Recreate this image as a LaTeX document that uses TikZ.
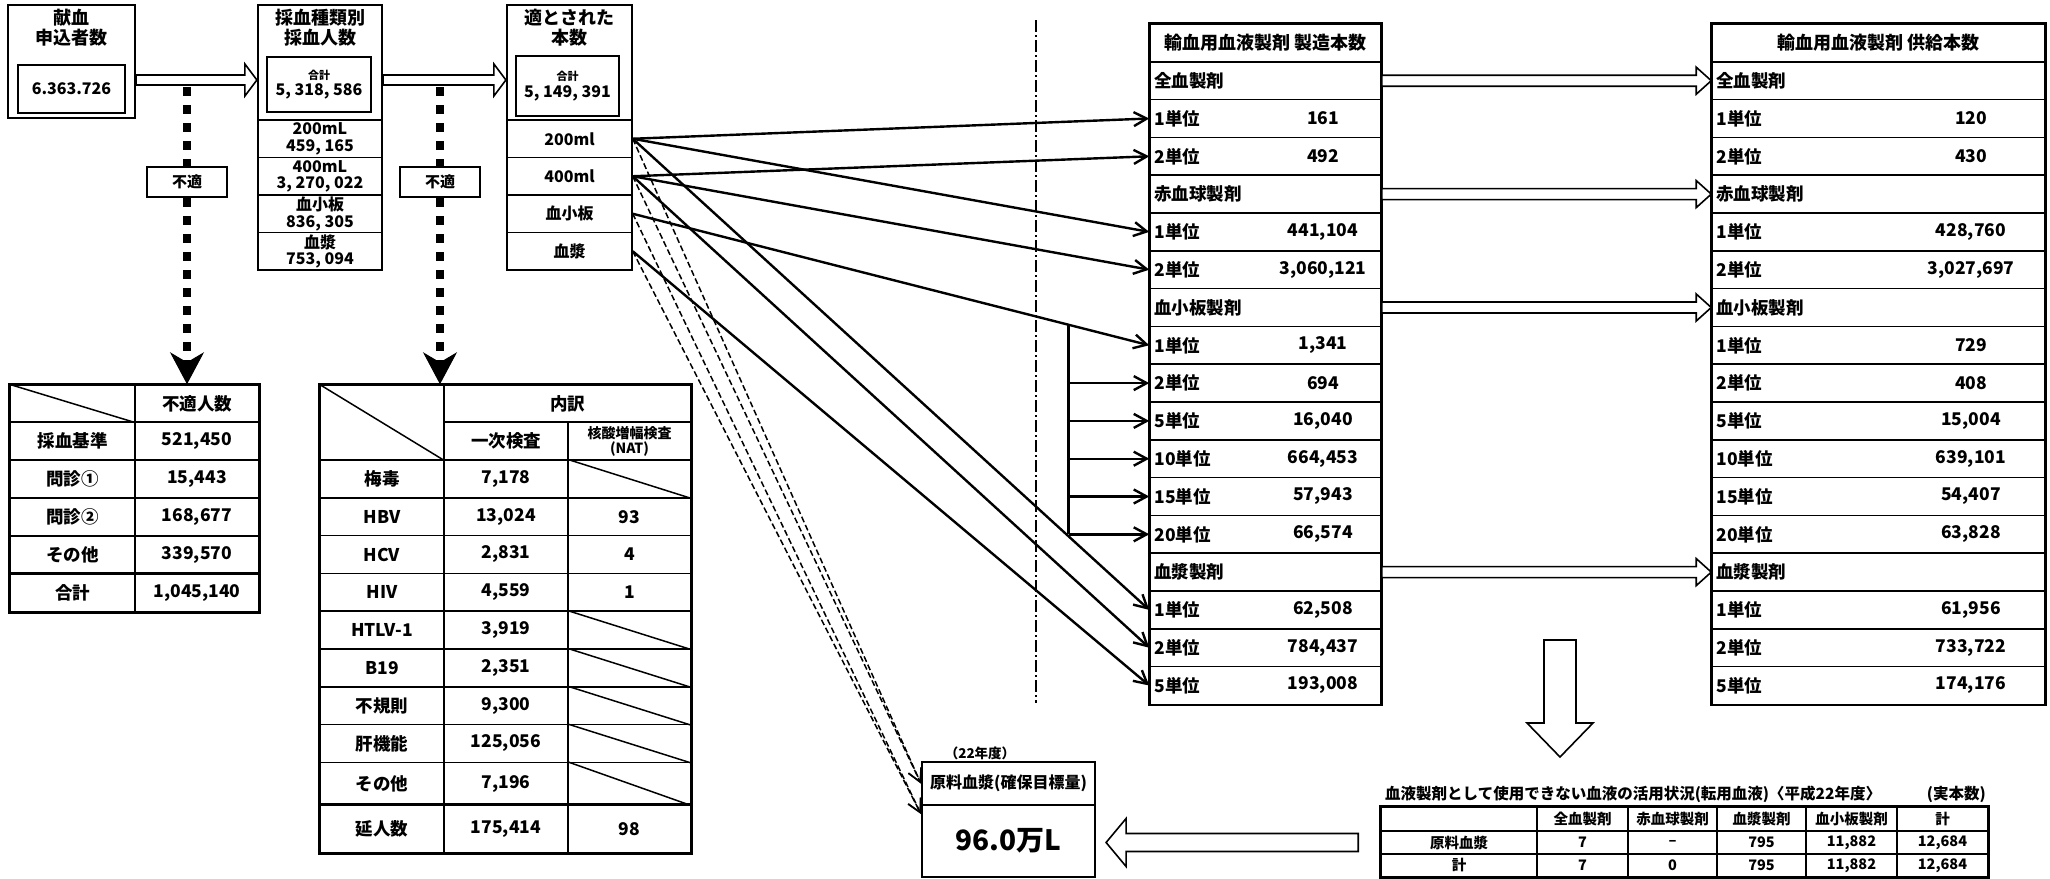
\documentclass[tikz,border=0pt]{standalone}
\usepackage{fontspec}
\setmainfont{Noto Sans CJK JP}
\usetikzlibrary{arrows.meta,positioning,calc}

% hollow block arrow pointing right: tail, tip, shaft half, head half, head length
\newcommand{\hollowR}[5]{%
  \draw[line width=1.6pt,fill=white] let \p1=#1, \p2=#2 in
    (\x1,\y1+#3) -- (\x2-#5,\y1+#3) -- (\x2-#5,\y1+#4) -- (\x2,\y1)
    -- (\x2-#5,\y1-#4) -- (\x2-#5,\y1-#3) -- (\x1,\y1-#3) -- cycle;}

\begin{document}
\begin{tikzpicture}[x=1pt,y=-1pt,
  frame/.style={draw,line width=2.2pt,inner sep=0pt},
  cell/.style={draw,line width=1.5pt,inner sep=0pt},
  rule/.style={line width=1.5pt},
  hd/.style={inner sep=0pt,align=center,font=\fontsize{18}{20}\selectfont\bfseries},
  lab/.style={inner sep=0pt,font=\fontsize{17.5}{19}\selectfont\bfseries},
  sm/.style={inner sep=0pt,align=center,font=\fontsize{16}{16.5}\selectfont\bfseries},
  tb/.style={inner sep=0pt,font=\fontsize{14.5}{15}\selectfont\bfseries},
  flow/.style={line width=2.4pt,-{Straight Barb[length=13pt,width=14pt]}},
  waste/.style={line width=1.5pt,dash pattern=on 6pt off 3pt,-{Straight Barb[length=13pt,width=14pt]}},
  reject/.style={line width=8pt,dash pattern=on 9pt off 9pt},
  rejecttip/.style={reject,-{Stealth[length=32pt,width=34pt,inset=10pt,line width=1pt]}}]

\path[fill=white,use as bounding box] (0,0) rectangle (2050,878);

% ---- intake boxes
\node[frame,minimum width=127pt,minimum height=113pt] (b1) at (71.5,61.5) {};
\node[hd] (b1t) at (71.5,28) {献血\\申込者数};
\node[frame,minimum width=107pt,minimum height=48pt,font=\fontsize{16}{17}\selectfont\bfseries] (b1n) at (71.5,89) {6.363.726};

\node[frame,minimum width=124pt,minimum height=265pt] (b2) at (320,137.5) {};
\node[hd] (b2t) at (320,28) {採血種類別\\採血人数};
\node[frame,sm,minimum width=104pt,minimum height=55pt] (b2n) at (319,84.5) {{\fontsize{11}{14}\selectfont 合計}\\5, 318, 586};
\foreach \t [count=\k] in {{200mL\\459, 165},{400mL\\3, 270, 022},{血小板\\836, 305},{血漿\\753, 094}}
  \node[cell,sm,minimum width=124pt,minimum height=37.5pt] (c\k) at (320,{101.25+37.5*\k}) {\t};

\node[frame,minimum width=125pt,minimum height=265pt] (b3) at (569.5,137.5) {};
\node[hd] (b3t) at (569.5,28) {適とされた\\本数};
\node[frame,sm,minimum width=103pt,minimum height=60pt] (b3n) at (567.5,86) {{\fontsize{11}{14}\selectfont 合計}\\5, 149, 391};
\foreach \n/\t [count=\k] in {r200/200ml,r400/400ml,rplt/血小板,rpl/血漿}
  \node[cell,sm,minimum width=125pt,minimum height=37.5pt] (\n) at (569.5,{101.25+37.5*\k}) {\t};

\coordinate (lvl) at (0,80);
\hollowR{(b1.east |- lvl)}{(b2.west |- lvl)}{5pt}{16pt}{12pt}
\hollowR{(b2.east |- lvl)}{(b3.west |- lvl)}{5pt}{16pt}{12pt}

% ---- rejected donors
\node[cell,lab,minimum width=125pt,minimum height=37pt] (t1d) at (72.5,403.5) {};
\node[cell,lab,minimum width=124pt,minimum height=37pt] (t1h) at (197,403.5) {不適人数};
\foreach \a/\b [count=\k] in {採血基準/{521,450},問診①/{15,443},問診②/{168,677},その他/{339,570},合計/{1,045,140}} {
  \node[cell,lab,minimum width=125pt,minimum height=38pt] (t1a\k) at (72.5,{403+38*\k}) {\a};
  \node[cell,lab,minimum width=124pt,minimum height=38pt] (t1b\k) at (197,{403+38*\k}) {\b};
}
\draw[rule] (t1d.north west) -- (t1d.south east);
\draw[line width=2.8pt] (t1a5.north west) -- (t1b5.north east);
\draw[line width=2.4pt] (t1d.north west) rectangle (t1b5.south east);

\node[cell,minimum width=124pt,minimum height=75pt] (t2d) at (382,422.5) {};
\node[cell,lab,minimum width=247pt,minimum height=37pt] (t2h) at (567.5,403.5) {内訳};
\node[cell,lab,minimum width=124pt,minimum height=38pt] (t2h1) at (506,441) {一次検査};
\node[cell,align=center,minimum width=123pt,minimum height=38pt,font=\fontsize{14}{15}\selectfont\bfseries] (t2h2) at (629.5,441) {核酸増幅検査\\(NAT)};
\foreach \a/\b/\c/\yc/\h [count=\k] in {梅毒/{7,178}/{}/478.9/37.8, HBV/{13,024}/93/516.7/37.8,
    HCV/{2,831}/4/554.5/37.8, HIV/{4,559}/1/592.3/37.8, HTLV-1/{3,919}/{}/630.1/37.8,
    B19/{2,351}/{}/667.9/37.8, 不規則/{9,300}/{}/705.7/37.8, 肝機能/{125,056}/{}/743.5/37.8,
    その他/{7,196}/{}/783.7/42.6, 延人数/{175,414}/98/829/48} {
  \node[cell,lab,minimum width=124pt,minimum height=\h pt] (t2a\k) at (382,\yc) {\a};
  \node[cell,lab,minimum width=124pt,minimum height=\h pt] (t2b\k) at (506,\yc) {\b};
  \node[cell,lab,minimum width=123pt,minimum height=\h pt] (t2c\k) at (629.5,\yc) {\c};
}
\draw[rule] (t2d.north west) -- (t2d.south east);
\foreach \k in {1,5,6,7,8,9}
  \draw[rule] (t2c\k.north west) -- (t2c\k.south east);
\draw[line width=2.8pt] (t2a10.north west) -- (t2c10.north east);
\draw[line width=2.4pt] (t2d.north west) rectangle (t2c10.south east);

\node[frame,minimum width=80pt,minimum height=30pt,font=\fontsize{15}{16}\selectfont\bfseries] (ng1) at (187,182) {不適};
\node[frame,minimum width=80pt,minimum height=30pt,font=\fontsize{15}{16}\selectfont\bfseries] (ng2) at (440,182) {不適};
\coordinate (d1) at (187,87);
\coordinate (d2) at (440,87);
\draw[reject] (d1) -- (ng1.north);
\draw[reject] (d2) -- (ng2.north);
\draw[rejecttip] (ng1.south) -- (ng1.south |- t1h.north);
\draw[rejecttip] (ng2.south) -- (ng2.south |- t2d.north);

% ---- products made / supplied
\node[cell,hd,minimum width=231pt,minimum height=37.8pt] (m0) at (1265.5,42.9) {輸血用血液製剤 製造本数};
\node[cell,hd,minimum width=333pt,minimum height=37.8pt] (s0) at (1878.5,42.9) {輸血用血液製剤 供給本数};
\foreach \i/\lab/\vm/\vs in {1/全血製剤/{}/{}, 2/1単位/161/120, 3/2単位/492/430,
    4/赤血球製剤/{}/{}, 5/1単位/{441,104}/{428,760}, 6/2単位/{3,060,121}/{3,027,697},
    7/血小板製剤/{}/{}, 8/1単位/{1,341}/729, 9/2単位/694/408, 10/5単位/{16,040}/{15,004},
    11/10単位/{664,453}/{639,101}, 12/15単位/{57,943}/{54,407}, 13/20単位/{66,574}/{63,828},
    14/血漿製剤/{}/{}, 15/1単位/{62,508}/{61,956}, 16/2単位/{784,437}/{733,722},
    17/5単位/{193,008}/{174,176}} {
  \pgfmathsetmacro\yc{24+37.8*(\i+0.5)}
  \node[cell,minimum width=231pt,minimum height=37.8pt] (m\i) at (1265.5,\yc) {};
  \node[cell,minimum width=333pt,minimum height=37.8pt] (s\i) at (1878.5,\yc) {};
  \node[lab,anchor=west] (ml\i) at ($(m\i.west)+(5,0)$) {\lab};
  \node[lab] (mv\i) at (1323,\yc) {\vm};
  \node[lab,anchor=west] (sl\i) at ($(s\i.west)+(5,0)$) {\lab};
  \node[lab] (sv\i) at (1971,\yc) {\vs};
}
\draw[line width=2.4pt] (m0.north west) rectangle (m17.south east);
\draw[line width=2.4pt] (s0.north west) rectangle (s17.south east);
\foreach \i in {1,4,7,14} {
  \hollowR{(m\i.east)}{(s\i.west)}{5.5pt}{13.5pt}{15pt}
}

\draw[line width=1.6pt,dash pattern=on 12pt off 3pt on 2pt off 3pt] (1036,20) -- (1036,703);

\foreach \f/\t in {r200/m2,r200/m5,r200/m15,r400/m3,r400/m6,r400/m16,rplt/m8,rpl/m17}
  \draw[flow] (\f.east) -- (\t.west);
\coordinate (bk) at ($(rplt.east)!0.844!(m8.west)$);
\draw[line width=3.5pt] (bk) -- (bk |- m13);
\foreach \k in {9,...,13}
  \draw[flow] (bk |- m\k) -- (m\k.west);

% ---- source plasma
\node[inner sep=0pt,font=\fontsize{13.5}{14}\selectfont\bfseries] (yr) at (980,753) {（22年度）};
\node[frame,minimum width=173pt,minimum height=43pt,font=\fontsize{16}{17}\selectfont\bfseries] (genh) at (1008.5,783.5) {原料血漿(確保目標量)};
\node[frame,minimum width=173pt,minimum height=72pt,font=\fontsize{28}{30}\selectfont\bfseries] (genb) at (1008.5,841) {96.0万L};
\coordinate (g2) at ($(genb.north west)+(0,10)$);
\foreach \f/\t in {r200/genh.west,r400/genh.west,rplt/g2,rpl/g2}
  \draw[waste] (\f.east) -- (\t);

% ---- diverted blood
\node[anchor=west,inner sep=0pt,font=\fontsize{15.5}{16}\selectfont\bfseries] (bttl) at (1385,794) {血液製剤として使用できない血液の活用状況(転用血液)〈平成22年度〉};
\node[anchor=east,inner sep=0pt,font=\fontsize{15.5}{16}\selectfont\bfseries] (btu) at (1986,794) {(実本数)};
\foreach \xc/\w/\a/\b/\c [count=\k] in {1459/156/{}/原料血漿/計, 1582.5/91/全血製剤/7/7,
    1672.5/89/赤血球製剤/–/0, 1761.5/89/血漿製剤/795/795, 1851.5/91/血小板製剤/{11,882}/{11,882},
    1942.5/91/計/{12,684}/{12,684}} {
  \node[cell,tb,minimum width=\w pt,minimum height=24pt] (bh\k) at (\xc,819) {\a};
  \node[cell,tb,minimum width=\w pt,minimum height=23pt] (bp\k) at (\xc,842.5) {\b};
  \node[cell,tb,minimum width=\w pt,minimum height=23pt] (bs\k) at (\xc,865.5) {\c};
}
\draw[line width=2.4pt] (bh1.north west) rectangle (bs6.south east);

\coordinate (dn) at (1560,640);
\draw[line width=1.6pt,fill=white] (dn) ++(-16,0) -- ++(32,0) -- ++(0,83) -- ++(17,0)
  -- ++(-33,34) -- ++(-33,-34) -- ++(17,0) -- cycle;
\coordinate (lt) at ($(bp1.west)+(-22,0)$);
\draw[line width=1.6pt,fill=white] let \p1=(lt), \p2=(genb.east) in
  (\x1,\y1+9pt) -- (\x2+30pt,\y1+9pt) -- (\x2+30pt,\y1+24pt) -- (\x2+10pt,\y1)
  -- (\x2+30pt,\y1-24pt) -- (\x2+30pt,\y1-9pt) -- (\x1,\y1-9pt) -- cycle;
\end{tikzpicture}
\end{document}
